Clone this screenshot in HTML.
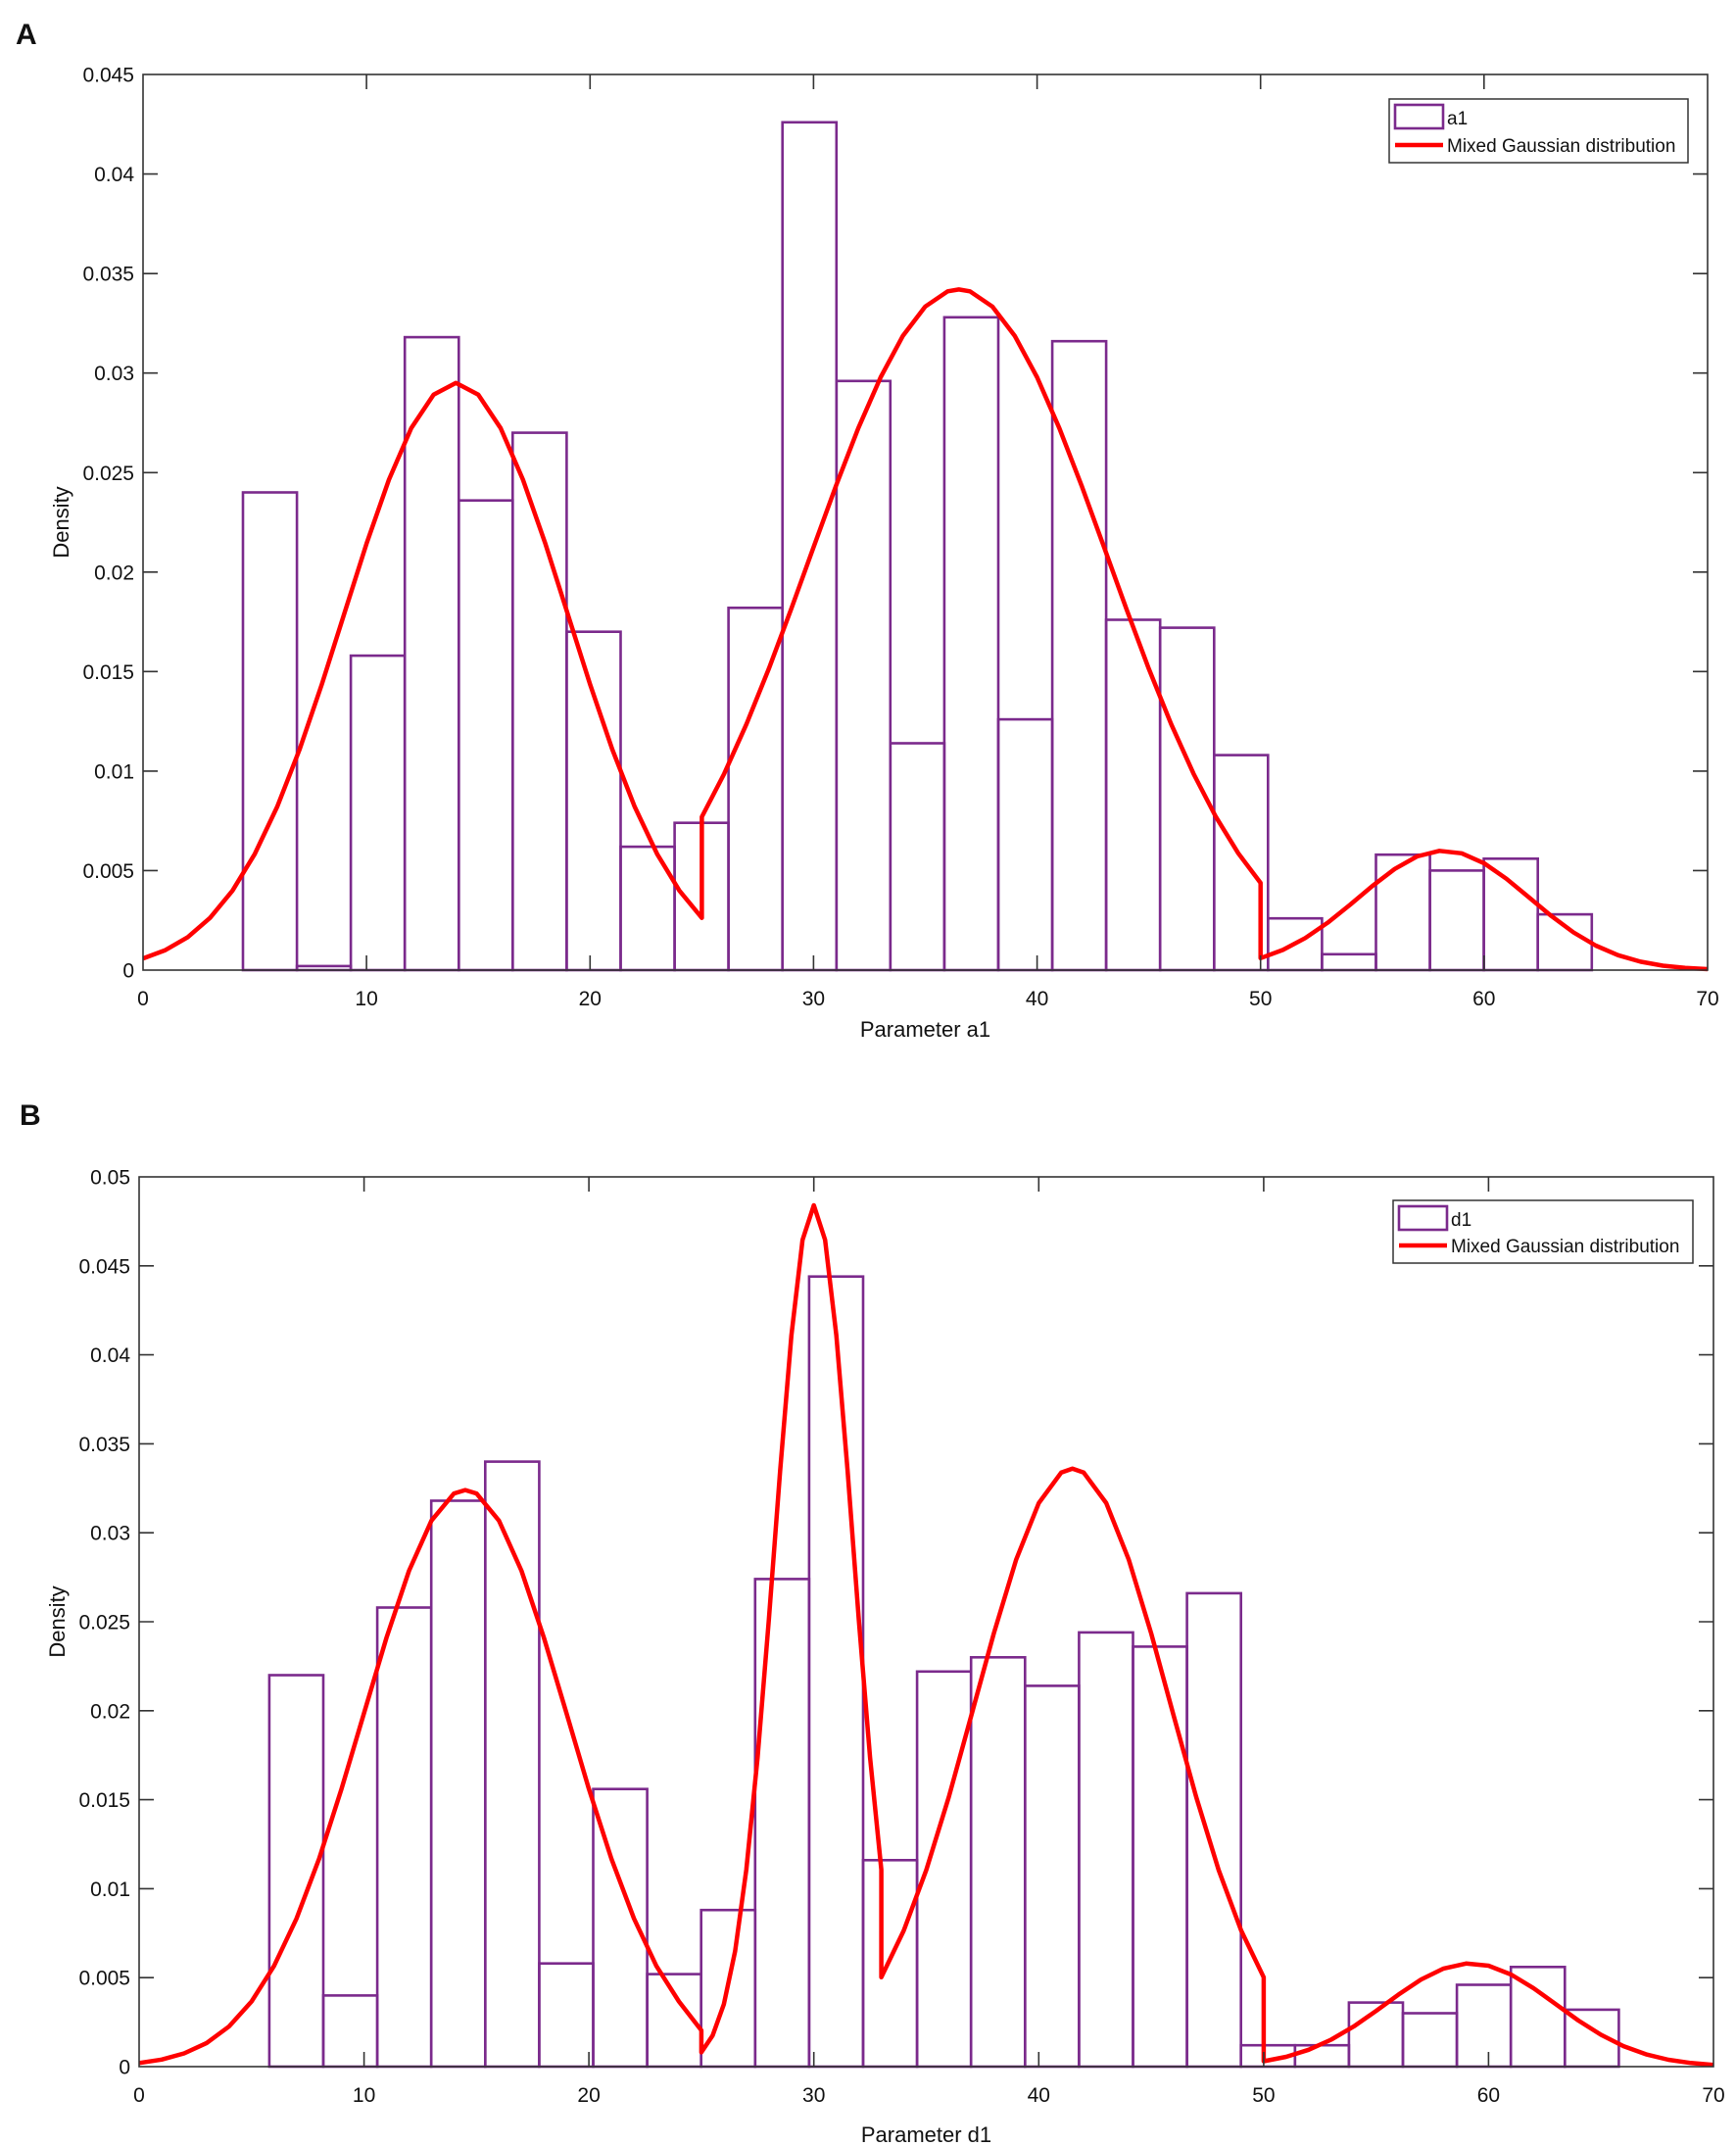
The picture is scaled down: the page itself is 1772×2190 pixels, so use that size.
<!DOCTYPE html>
<html><head><meta charset="utf-8">
<style>
html,body{margin:0;padding:0;background:#fff;}
svg{display:block;}
text{font-family:"Liberation Sans",Arial,sans-serif;fill:#111;}
</style></head>
<body>
<svg width="1772" height="2190" xmlns="http://www.w3.org/2000/svg">
<rect width="1772" height="2190" fill="#fff"/>
<!-- ================= PANEL A ================= -->
<text x="16" y="45" font-size="30" font-weight="bold">A</text>
<g fill="none" stroke="#7B2A8C" stroke-width="2.6">
<rect x="248.0" y="502.5" width="55.1" height="487.5"/>
<rect x="303.1" y="985.9" width="55.0" height="4.1"/>
<rect x="358.1" y="669.1" width="55.1" height="320.9"/>
<rect x="413.2" y="344.1" width="55.1" height="645.9"/>
<rect x="468.3" y="510.7" width="55.0" height="479.3"/>
<rect x="523.3" y="441.6" width="55.1" height="548.4"/>
<rect x="578.4" y="644.7" width="55.1" height="345.3"/>
<rect x="633.5" y="864.1" width="55.1" height="125.9"/>
<rect x="688.6" y="839.7" width="55.0" height="150.3"/>
<rect x="743.6" y="620.3" width="55.1" height="369.7"/>
<rect x="798.7" y="124.8" width="55.1" height="865.2"/>
<rect x="853.8" y="388.8" width="55.0" height="601.2"/>
<rect x="908.8" y="758.5" width="55.1" height="231.5"/>
<rect x="963.9" y="323.8" width="55.1" height="666.2"/>
<rect x="1019.0" y="734.1" width="55.1" height="255.9"/>
<rect x="1074.1" y="348.2" width="55.0" height="641.8"/>
<rect x="1129.1" y="632.5" width="55.1" height="357.5"/>
<rect x="1184.2" y="640.6" width="55.1" height="349.4"/>
<rect x="1239.3" y="770.6" width="55.0" height="219.4"/>
<rect x="1294.3" y="937.2" width="55.1" height="52.8"/>
<rect x="1349.4" y="973.8" width="55.1" height="16.2"/>
<rect x="1404.5" y="872.2" width="55.1" height="117.8"/>
<rect x="1459.6" y="888.4" width="55.0" height="101.6"/>
<rect x="1514.6" y="876.3" width="55.1" height="113.7"/>
<rect x="1569.7" y="933.1" width="55.1" height="56.9"/>
</g>
<polyline fill="none" stroke="#F00" stroke-width="4.5" stroke-linejoin="round" points="
146,978.1 168.8,969.6 191.6,956.4 214.4,936.7 237.3,908.9 260.1,871.4 282.9,823.4 305.7,765.1 328.5,698.3 351.3,626.6 374.1,554.9 397,489.5 419.8,436.9 442.6,402.7 465.4,390.8 488.2,402.7 511,436.9 533.8,489.5 556.7,554.9 579.5,626.6 602.3,698.3 625.1,765.1 647.9,823.4 670.7,871.4 693.5,908.9 716.4,936.7
716.4,833.6 739.2,789.6 762,738.8 784.8,682.4 807.6,621.5 830.4,558.5 853.2,496.1 876,437.2 898.9,385.0 921.7,342.6 944.5,312.8 967.3,297.3 978.7,295.4 990.1,297.3 1012.9,312.8 1035.7,342.6 1058.6,385.0 1081.4,437.2 1104.2,496.1 1127,558.5 1149.8,621.5 1172.6,682.4 1195.4,738.8 1218.3,789.6 1241.1,833.6 1263.9,870.7 1286.7,901.0
1286.7,977.8 1309.5,969.4 1332.3,957.3 1355.1,941.7 1378,923.4 1400.8,904.2 1423.6,886.8 1446.4,874.0 1469.2,868.3 1492,870.8 1514.8,880.9 1537.7,896.8 1560.5,915.6 1583.3,934.6 1606.1,951.5 1628.9,965.0 1651.7,974.8 1674.5,981.4 1697.4,985.5 1720.2,987.8 1743,989.0"/>
<rect x="146" y="76" width="1597" height="914" fill="none" stroke="#333" stroke-width="1.6"/>
<path fill="none" stroke="#333" stroke-width="1.6" d="
M374.1 990V975M602.3 990V975M830.4 990V975M1058.6 990V975M1286.7 990V975M1514.8 990V975
M374.1 76V91M602.3 76V91M830.4 76V91M1058.6 76V91M1286.7 76V91M1514.8 76V91
M146 888.4H161M146 786.9H161M146 685.3H161M146 583.8H161M146 482.3H161M146 380.7H161M146 279.2H161M146 177.6H161
M1743 888.4H1728M1743 786.9H1728M1743 685.3H1728M1743 583.8H1728M1743 482.3H1728M1743 380.7H1728M1743 279.2H1728M1743 177.6H1728"/>
<g font-size="21" text-anchor="middle">
<text x="146" y="1026">0</text><text x="374.1" y="1026">10</text><text x="602.3" y="1026">20</text><text x="830.4" y="1026">30</text><text x="1058.6" y="1026">40</text><text x="1286.7" y="1026">50</text><text x="1514.8" y="1026">60</text><text x="1743" y="1026">70</text>
</g>
<g font-size="21" text-anchor="end">
<text x="137" y="997.5">0</text><text x="137" y="895.9">0.005</text><text x="137" y="794.4">0.01</text><text x="137" y="692.8">0.015</text><text x="137" y="591.3">0.02</text><text x="137" y="489.8">0.025</text><text x="137" y="388.2">0.03</text><text x="137" y="286.7">0.035</text><text x="137" y="185.1">0.04</text><text x="137" y="83.5">0.045</text>
</g>
<text x="944.5" y="1058" font-size="22" text-anchor="middle">Parameter a1</text>
<text transform="translate(70 533) rotate(-90)" font-size="22" text-anchor="middle">Density</text>
<rect x="1418" y="101" width="305" height="65" fill="#fff" stroke="#333" stroke-width="1.5"/>
<rect x="1424" y="107" width="49" height="24" fill="none" stroke="#7B2A8C" stroke-width="2.6"/>
<text x="1477" y="127" font-size="19">a1</text>
<line x1="1424" y1="148" x2="1473" y2="148" stroke="#F00" stroke-width="4.5"/>
<text x="1477" y="155" font-size="19">Mixed Gaussian distribution</text>

<!-- ================= PANEL B ================= -->
<text x="20" y="1148" font-size="30" font-weight="bold">B</text>
<g fill="none" stroke="#7B2A8C" stroke-width="2.6">
<rect x="274.9" y="1709.5" width="55.1" height="399.5"/>
<rect x="330.0" y="2036.4" width="55.1" height="72.6"/>
<rect x="385.1" y="1640.5" width="55.1" height="468.5"/>
<rect x="440.2" y="1531.5" width="55.1" height="577.5"/>
<rect x="495.3" y="1491.6" width="55.1" height="617.4"/>
<rect x="550.4" y="2003.7" width="55.1" height="105.3"/>
<rect x="605.5" y="1825.7" width="55.1" height="283.3"/>
<rect x="660.6" y="2014.6" width="55.1" height="94.4"/>
<rect x="715.7" y="1949.2" width="55.1" height="159.8"/>
<rect x="770.8" y="1611.4" width="55.1" height="497.6"/>
<rect x="825.9" y="1302.7" width="55.1" height="806.3"/>
<rect x="881.0" y="1898.3" width="55.1" height="210.7"/>
<rect x="936.1" y="1705.8" width="55.1" height="403.2"/>
<rect x="991.2" y="1691.3" width="55.1" height="417.7"/>
<rect x="1046.3" y="1720.4" width="55.1" height="388.6"/>
<rect x="1101.4" y="1665.9" width="55.1" height="443.1"/>
<rect x="1156.5" y="1680.4" width="55.1" height="428.6"/>
<rect x="1211.6" y="1625.9" width="55.1" height="483.1"/>
<rect x="1266.7" y="2087.2" width="55.1" height="21.8"/>
<rect x="1321.8" y="2087.2" width="55.1" height="21.8"/>
<rect x="1376.9" y="2043.6" width="55.1" height="65.4"/>
<rect x="1432.0" y="2054.5" width="55.1" height="54.5"/>
<rect x="1487.1" y="2025.5" width="55.1" height="83.5"/>
<rect x="1542.2" y="2007.3" width="55.1" height="101.7"/>
<rect x="1597.3" y="2050.9" width="55.1" height="58.1"/>
</g>
<polyline fill="none" stroke="#F00" stroke-width="4.5" stroke-linejoin="round" points="
142,2105.3 165,2101.8 187.9,2095.5 210.9,2084.9 233.8,2068.0 256.8,2042.5 279.7,2006.3 302.7,1957.8 325.7,1896.9 348.6,1825.6 371.6,1748.2 394.5,1671.3 417.5,1603.0 440.4,1551.8 463.4,1524.1 474.9,1520.6 486.4,1524.1 509.3,1551.8 532.3,1603.0 555.2,1671.3 578.2,1748.2 601.1,1825.6 624.1,1896.9 647.1,1957.8 670,2006.3 693,2042.5 715.9,2072
715.9,2094.4 727.4,2077.2 738.9,2045.2 750.4,1991 761.8,1908 773.3,1793.5 784.8,1652.8 796.3,1501.2 807.8,1362.9 819.2,1265.3 830.7,1230 842.2,1265.3 853.7,1362.9 865.2,1501.2 876.6,1652.8 888.1,1793.5 899.6,1908
899.6,2017.8 922.5,1970.1 945.5,1908.3 968.5,1833.8 991.4,1750.9 1014.4,1667.0 1037.3,1591.4 1060.3,1533.9 1083.2,1502.8 1094.7,1498.8 1106.2,1502.8 1129.2,1533.9 1152.1,1591.4 1175.1,1667.0 1198,1750.9 1221,1833.8 1243.9,1908.3 1266.9,1970.1 1289.9,2017.8
1289.9,2103.5 1312.8,2099 1335.8,2091.8 1358.7,2081.5 1381.7,2068.1 1404.6,2052.2 1427.6,2035.4 1450.5,2020.1 1473.5,2008.9 1496.5,2003.8 1519.4,2006 1542.4,2015 1565.3,2028.9 1588.3,2045.4 1611.2,2062 1634.2,2076.5 1657.2,2088.1 1680.1,2096.4 1703.1,2102 1726,2105.3 1749,2107.2"/>
<rect x="142" y="1201" width="1607" height="908" fill="none" stroke="#333" stroke-width="1.6"/>
<path fill="none" stroke="#333" stroke-width="1.6" d="
M371.6 2109V2094M601.1 2109V2094M830.7 2109V2094M1060.3 2109V2094M1289.9 2109V2094M1519.4 2109V2094
M371.6 1201V1216M601.1 1201V1216M830.7 1201V1216M1060.3 1201V1216M1289.9 1201V1216M1519.4 1201V1216
M142 2018.2H157M142 1927.4H157M142 1836.6H157M142 1745.8H157M142 1655H157M142 1564.2H157M142 1473.4H157M142 1382.6H157M142 1291.8H157
M1749 2018.2H1734M1749 1927.4H1734M1749 1836.6H1734M1749 1745.8H1734M1749 1655H1734M1749 1564.2H1734M1749 1473.4H1734M1749 1382.6H1734M1749 1291.8H1734"/>
<g font-size="21" text-anchor="middle">
<text x="142" y="2145">0</text><text x="371.6" y="2145">10</text><text x="601.1" y="2145">20</text><text x="830.7" y="2145">30</text><text x="1060.3" y="2145">40</text><text x="1289.9" y="2145">50</text><text x="1519.4" y="2145">60</text><text x="1749" y="2145">70</text>
</g>
<g font-size="21" text-anchor="end">
<text x="133" y="2116.5">0</text><text x="133" y="2025.7">0.005</text><text x="133" y="1934.9">0.01</text><text x="133" y="1844.1">0.015</text><text x="133" y="1753.3">0.02</text><text x="133" y="1662.5">0.025</text><text x="133" y="1571.7">0.03</text><text x="133" y="1480.9">0.035</text><text x="133" y="1390.1">0.04</text><text x="133" y="1299.3">0.045</text><text x="133" y="1208.5">0.05</text>
</g>
<text x="945.5" y="2186" font-size="22" text-anchor="middle">Parameter d1</text>
<text transform="translate(66 1655) rotate(-90)" font-size="22" text-anchor="middle">Density</text>
<rect x="1422" y="1225" width="306" height="64" fill="#fff" stroke="#333" stroke-width="1.5"/>
<rect x="1428" y="1231" width="49" height="24" fill="none" stroke="#7B2A8C" stroke-width="2.6"/>
<text x="1481" y="1251" font-size="19">d1</text>
<line x1="1428" y1="1271" x2="1477" y2="1271" stroke="#F00" stroke-width="4.5"/>
<text x="1481" y="1278" font-size="19">Mixed Gaussian distribution</text>
</svg>
</body></html>
